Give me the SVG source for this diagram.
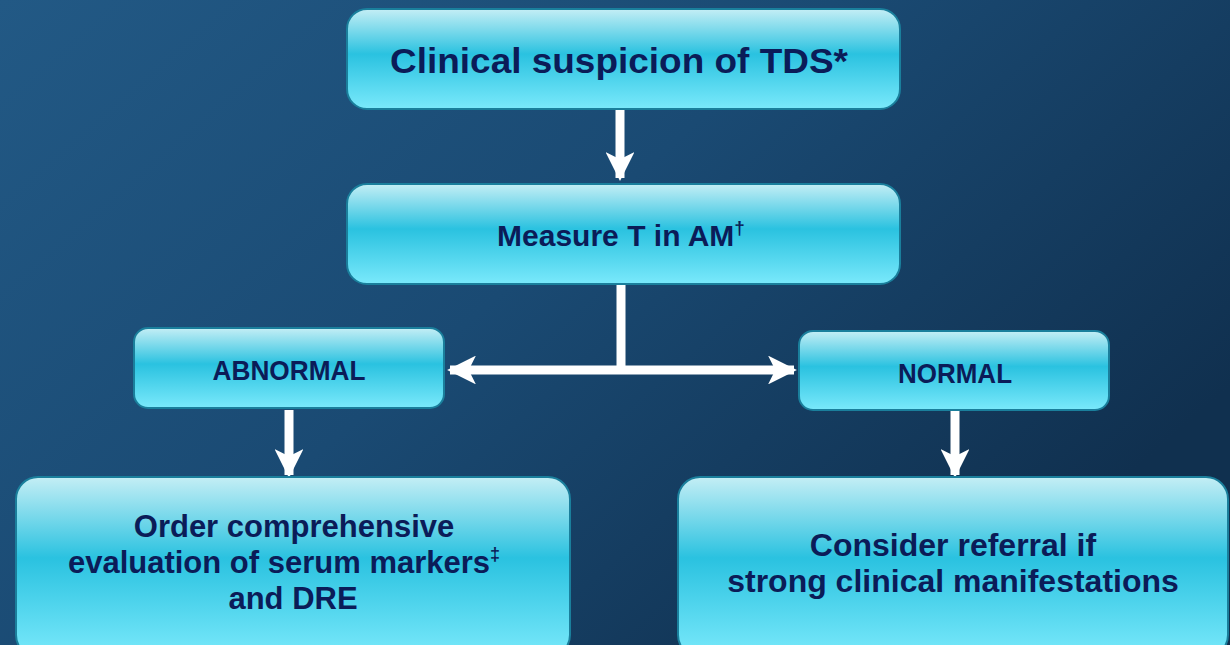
<svg xmlns="http://www.w3.org/2000/svg" width="1230" height="645" viewBox="0 0 1230 645">
<defs>
<linearGradient id="bg" x1="0" y1="0" x2="1" y2="0.6">
<stop offset="0" stop-color="#225985"/>
<stop offset="0.5" stop-color="#1a4a73"/>
<stop offset="1" stop-color="#10304f"/>
</linearGradient>
<linearGradient id="box" x1="0" y1="0" x2="0" y2="1">
<stop offset="0" stop-color="#c4eef5"/>
<stop offset="0.45" stop-color="#2ac2e0"/>
<stop offset="1" stop-color="#7ae9fb"/>
</linearGradient>
<marker id="ah" viewBox="0 0 10 10" refX="9" refY="5" markerWidth="3.2" markerHeight="3.2" orient="auto-start-reverse" markerUnits="strokeWidth">
<path d="M0,0 L10,5 L0,10 L2.5,5 Z" fill="#ffffff"/>
</marker>
</defs>
<style>
.b{fill:url(#box);stroke:#1a7f9c;stroke-width:2}
.t{font-family:"Liberation Sans",Arial,sans-serif;font-weight:bold;fill:#0b1c58;text-anchor:middle}
.c{stroke:#ffffff;stroke-width:9;fill:none}
</style>
<rect width="1230" height="645" fill="url(#bg)"/>
<g id="connectors">
<line class="c" x1="620" y1="110" x2="620" y2="178" marker-end="url(#ah)"/>
<line class="c" x1="621" y1="284" x2="621" y2="370"/>
<line class="c" x1="450" y1="370" x2="794" y2="370" marker-start="url(#ah)" marker-end="url(#ah)"/>
<line class="c" x1="289" y1="410" x2="289" y2="475" marker-end="url(#ah)"/>
<line class="c" x1="955" y1="410" x2="955" y2="475" marker-end="url(#ah)"/>
</g>
<g id="n1">
<rect class="b" x="347" y="9" width="553" height="100" rx="20"/>
<text class="t" x="619" y="73" font-size="35" textLength="458" lengthAdjust="spacingAndGlyphs">Clinical suspicion of TDS*</text>
</g>
<g id="n2">
<rect class="b" x="347" y="184" width="553" height="100" rx="20"/>
<text class="t" x="621" y="246" font-size="30">Measure T in AM<tspan font-size="19" dy="-12">†</tspan></text>
</g>
<g id="n3">
<rect class="b" x="134" y="328" width="310" height="80" rx="14"/>
<text class="t" x="289" y="380" font-size="28" textLength="153" lengthAdjust="spacingAndGlyphs">ABNORMAL</text>
</g>
<g id="n4">
<rect class="b" x="799" y="331" width="310" height="79" rx="14"/>
<text class="t" x="955" y="383" font-size="28" textLength="114" lengthAdjust="spacingAndGlyphs">NORMAL</text>
</g>
<g id="n5">
<rect class="b" x="16" y="477" width="554" height="180" rx="22"/>
<text class="t" font-size="31"><tspan x="294" y="537">Order comprehensive</tspan><tspan x="284" y="573">evaluation of serum markers<tspan font-size="18" dy="-13">‡</tspan></tspan><tspan x="293" y="609">and DRE</tspan></text>
</g>
<g id="n6">
<rect class="b" x="678" y="477" width="550" height="180" rx="22"/>
<text class="t" font-size="32"><tspan x="953" y="556">Consider referral if</tspan><tspan x="953" y="592">strong clinical manifestations</tspan></text>
</g>
</svg>
